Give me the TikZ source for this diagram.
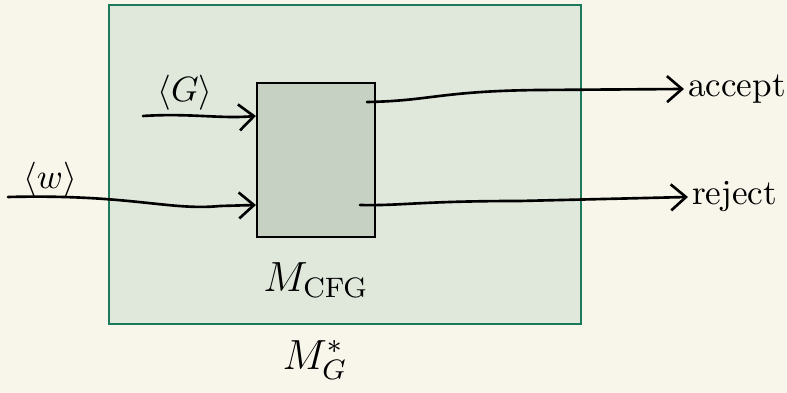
\documentclass[tikz,border=0pt]{standalone}
\usepackage{amsmath}
\usepackage{amssymb}
\usepackage{tikz}
\usetikzlibrary{positioning, arrows.meta}
\definecolor{paper}{HTML}{F8F5EA}
\definecolor{outerfill}{HTML}{DFE8DA}
\definecolor{outerline}{HTML}{1B7A5C}
\definecolor{innerfill}{HTML}{C6D1C4}
\tikzstyle{machine}=[rectangle, draw=outerline, line width=0.65pt, fill=outerfill, minimum width=4.72cm, minimum height=3.19cm]
\tikzstyle{decider}=[rectangle, draw=black, line width=0.6pt, fill=innerfill, minimum width=1.18cm, minimum height=1.54cm]
\tikzstyle{wire}=[line width=0.75pt, line cap=round, -{Straight Barb[length=1.5mm,width=2.6mm]}]

\begin{document}
\begin{tikzpicture}
        % Le fond
        \fill[paper] (0,0) rectangle (7.87,3.93);
        \useasboundingbox (0,0) rectangle (7.87,3.93);

        % Les machines
        \node[machine] (MG) at (3.45,2.285) {};
        \node[decider] (dec) at (3.16,2.33) {};
        \node[below=0.12cm of dec] (cfg) {\large $M_{\mathrm{CFG}}$};
        \node (mg) at (3.15,0.33) {\large $M^{*}_{G}$};

        % Les entrées et sorties
        \node (G) at (1.85,3.0) {$\langle G\rangle$};
        \node (w) at (0.50,2.13) {$\langle w\rangle$};
        \node[anchor=west, inner sep=1pt] (acc) at (6.84,3.04) {accept};
        \node[anchor=west, inner sep=1pt] (rej) at (6.88,1.96) {reject};

        \coordinate (gin) at (1.43,2.77);
        \coordinate (win) at (0.08,1.96);
        \coordinate (accout) at (3.67,2.91);
        \coordinate (rejout) at (3.60,1.88);

        % Les flèches
        \draw[wire] (gin) .. controls (1.9,2.80) and (2.2,2.74) .. ([yshift=4.4mm]dec.west);
        \draw[wire] (win) .. controls (1.3,1.99) and (1.7,1.82) .. (2.2,1.87) -- ([yshift=-4.5mm]dec.west);
        \draw[wire] (accout) .. controls (4.3,2.92) and (4.4,3.02) .. (5.4,3.03) -- (acc.west);
        \draw[wire] (rejout) .. controls (4.0,1.87) and (4.2,1.92) .. (5.2,1.92) -- (rej.west);
    \end{tikzpicture}
\end{document}
